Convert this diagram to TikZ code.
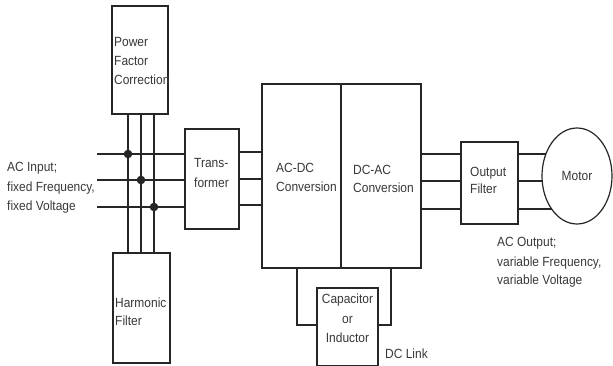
\documentclass[tikz,border=0pt]{standalone}
\usepackage{fontspec}
\setmainfont[FakeStretch=0.9]{Liberation Sans}
\usetikzlibrary{shapes.geometric,backgrounds}
\definecolor{ink}{HTML}{262626}
\definecolor{txt}{HTML}{383838}
\tikzset{
  blk/.style={draw=ink, line width=1.2pt, fill=white, inner sep=0, minimum width=#1},
  wire/.style={draw=ink, line width=1.2pt},
  lbl/.style={anchor=base west, inner sep=0, text=txt, font=\fontsize{13.3}{15}\selectfont},
  clbl/.style={lbl, anchor=base},
}
\begin{document}
\begin{tikzpicture}[x=1pt,y=-1pt]
\useasboundingbox (0,0) rectangle (613,366);
% blocks
\node[blk=56pt, minimum height=108pt] (pfc) at (140,60) {};
\node[blk=57pt, minimum height=110pt] (hf) at (141.5,308) {};
\node[blk=54pt, minimum height=100pt] (tr) at (212,179) {};
\node[blk=79pt, minimum height=184pt] (acdc) at (301.5,176) {};
\node[blk=80pt, minimum height=184pt] (dcac) at (381,176) {};
\node[blk=61pt, minimum height=78pt] (cap) at (347.5,327) {};
\node[blk=57pt, minimum height=82pt] (of) at (489.5,183) {};
\node[ellipse, draw=ink, line width=1.2pt, fill=white, inner sep=0, minimum width=70pt, minimum height=96pt] (motor) at (577,176) {};
% free ends of input wires
\coordinate (in1) at (97,154);
\coordinate (in2) at (97,180);
\coordinate (in3) at (97,207);
% junctions
\coordinate (j1) at (128,154);
\coordinate (j2) at (141,180);
\coordinate (j3) at (154,207);
\begin{scope}[on background layer]
  % input lines
  \draw[wire] (in1) -- (tr.west |- in1);
  \draw[wire] (in2) -- (tr.west |- in2);
  \draw[wire] (in3) -- (tr.west |- in3);
  % vertical lines PFC - HF
  \draw[wire] (pfc.south -| j1) -- (hf.north -| j1);
  \draw[wire] (pfc.south -| j2) -- (hf.north -| j2);
  \draw[wire] (pfc.south -| j3) -- (hf.north -| j3);
  % transformer to AC-DC
  \draw[wire] ([yshift=-26pt]tr.east) -- ([yshift=-26pt]tr.east -| acdc.west);
  \draw[wire] (tr.east) -- (tr.east -| acdc.west);
  \draw[wire] ([yshift=27pt]tr.east) -- ([yshift=27pt]tr.east -| acdc.west);
  % DC-AC to output filter
  \draw[wire] ([yshift=29pt]of.west -| dcac.east) -- ([yshift=29pt]of.west);
  \draw[wire] ([yshift=2pt]of.west -| dcac.east) -- ([yshift=2pt]of.west);
  \draw[wire] ([yshift=-26pt]of.west -| dcac.east) -- ([yshift=-26pt]of.west);
  % output filter to motor
  \draw[wire] ([yshift=29pt]of.east) -- ([yshift=29pt]of.east -| motor.center);
  \draw[wire] ([yshift=2pt]of.east) -- ([yshift=2pt]of.east -| motor.center);
  \draw[wire] ([yshift=-26pt]of.east) -- ([yshift=-26pt]of.east -| motor.center);
\end{scope}
% DC link wires
\coordinate (dl) at (297,325);
\coordinate (dr) at (391,325);
\draw[wire] (acdc.south -| dl) -- (dl) -- (cap.west |- dl);
\draw[wire] (dcac.south -| dr) -- (dr) -- (cap.east |- dr);
% junction dots
\fill[ink] (j1) circle (4.3pt);
\fill[ink] (j2) circle (4.3pt);
\fill[ink] (j3) circle (4.3pt);
% labels
\node[lbl] (a1) at (7,172) {AC Input;};
\node[lbl] (a2) at (7,192) {fixed Frequency,};
\node[lbl] (a3) at (7,211) {fixed Voltage};
\node[lbl] (p1) at (114,47) {Power};
\node[lbl] (p2) at (114,66) {Factor};
\node[lbl] (p3) at (114,85) {Correction};
\node[lbl] (h1) at (115,307) {Harmonic};
\node[lbl] (h2) at (115,325) {Filter};
\node[lbl] (t1) at (194,168) {Trans-};
\node[lbl] (t2) at (194,188) {former};
\node[lbl] (c1) at (276,173) {AC-DC};
\node[lbl] (c2) at (276,192) {Conversion};
\node[lbl] (d1) at (353,175) {DC-AC};
\node[lbl] (d2) at (353,193) {Conversion};
\node[lbl] (o1) at (470,177) {Output};
\node[lbl] (o2) at (470,194) {Filter};
\node[clbl] (m1) at (577,181) {Motor};
\node[lbl] (u1) at (497,247) {AC Output;};
\node[lbl] (u2) at (497,266) {variable Frequency,};
\node[lbl] (u3) at (497,284) {variable Voltage};
\node[clbl] (k1) at (347.5,303) {Capacitor};
\node[clbl] (k2) at (347.5,323) {or};
\node[clbl] (k3) at (347.5,342) {Inductor};
\node[lbl] (dc) at (385,358) {DC Link};
\end{tikzpicture}
\end{document}
